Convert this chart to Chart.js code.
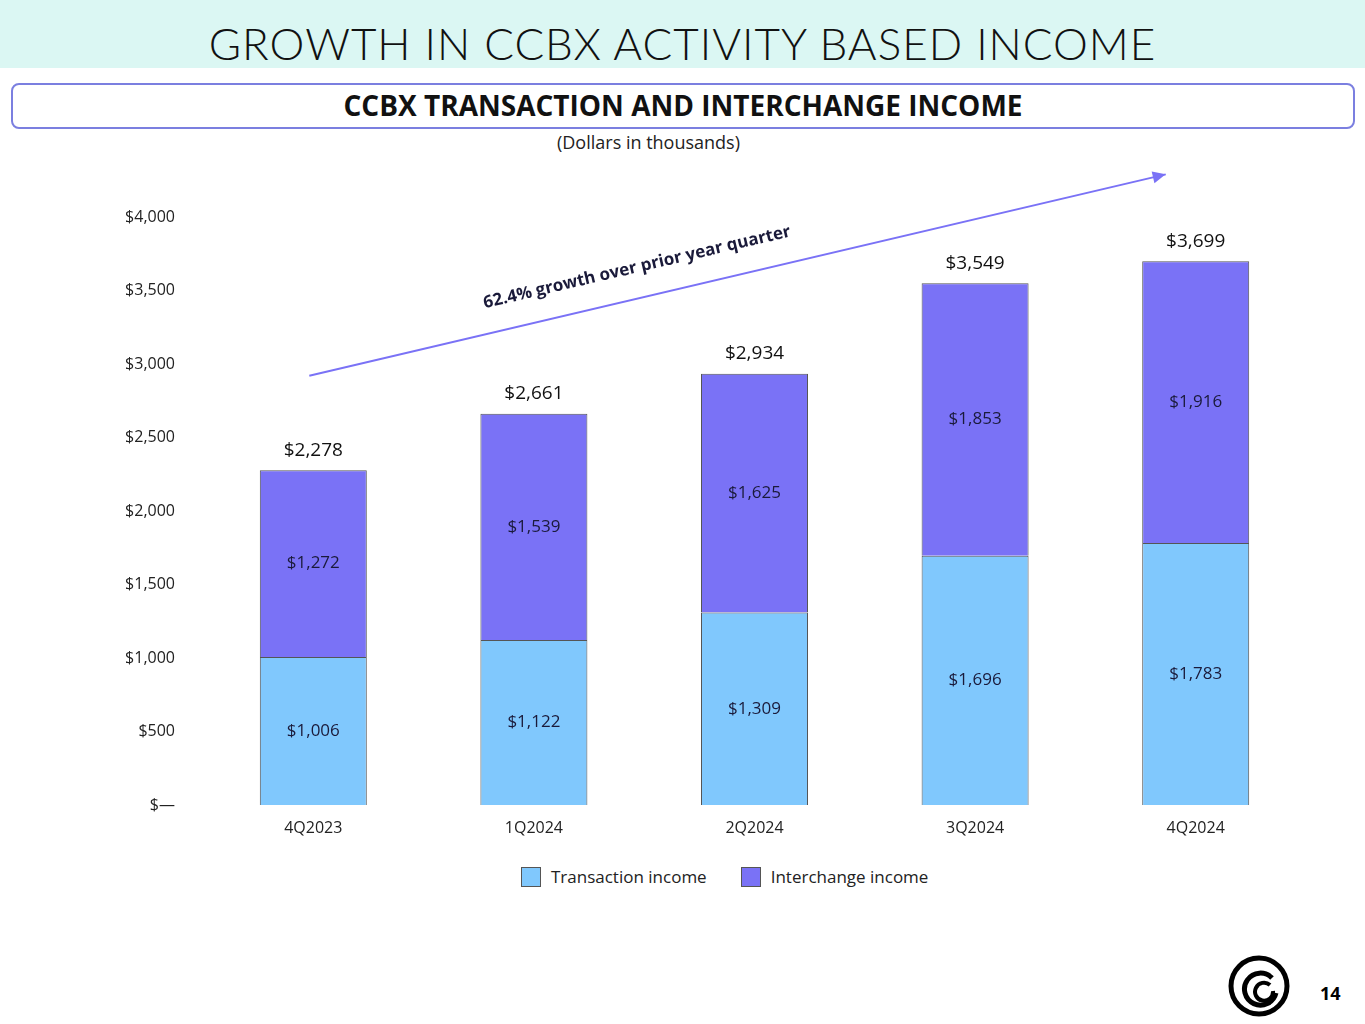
<!DOCTYPE html>
<html><head><meta charset="utf-8">
<script src="https://cdn.jsdelivr.net/npm/chart.js@4"></script>
<style>
body{margin:0;width:1365px;height:1024px;background:#fff;font-family:Calibri,"Open Sans",Carlito,sans-serif;position:relative;overflow:hidden}
#hdr{position:absolute;left:0;top:0;width:1365px;height:68px;background:#dbf7f3;text-align:center;font:300 44px "Lato","Liberation Sans",sans-serif;line-height:86px;color:#111;letter-spacing:1px}
#box{position:absolute;left:11px;top:83px;width:1340px;height:42px;border:2px solid #7b7fe0;border-radius:8px;text-align:center;font:bold 28px "Open Sans",sans-serif;line-height:40px;color:#111}
#sub{position:absolute;left:0;width:1297px;top:130px;text-align:center;font:18px "Open Sans",sans-serif;color:#222}
#wrap{position:absolute;left:0;top:160px;width:1365px;height:700px}
#leg{position:absolute;top:865px;left:521px;font:17px "Open Sans",sans-serif;color:#222}
#leg span{display:inline-block;width:18px;height:18px;border:1px solid #555;vertical-align:-4px;margin-right:10px}
#pg{position:absolute;left:1320px;top:981px;font:bold 18px "Open Sans",sans-serif}
</style></head><body>
<div id="hdr">GROWTH IN CCBX ACTIVITY BASED INCOME</div>
<div id="box">CCBX TRANSACTION AND INTERCHANGE INCOME</div>
<div id="sub">(Dollars in thousands)</div>
<div id="wrap"><canvas id="c"></canvas></div>
<div id="leg"><span style="background:#80c8fd"></span>Transaction income<span style="background:#7a72f6;margin-left:34px"></span>Interchange income</div>
<svg style="position:absolute;left:1226px;top:955px" width="66" height="62" viewBox="0 0 66 62">
<circle cx="33" cy="31" r="28" fill="none" stroke="#000" stroke-width="5"/>
<path d="M46 23 A16 16 0 1 0 50 38" fill="none" stroke="#000" stroke-width="5"/>
<path d="M44 30 A9 9 0 1 0 47 36" fill="none" stroke="#000" stroke-width="4"/>
</svg>
<div id="pg">14</div>
<script>
const quarters = ['4Q2023','1Q2024','2Q2024','3Q2024','4Q2024'];
const transaction = [1006,1122,1309,1696,1783];
const interchange = [1272,1539,1625,1853,1916];
const totals = [2278,2661,2934,3549,3699];
const yTicks = [0,500,1000,1500,2000,2500,3000,3500,4000];

const fmt = v => v === 0 ? '$\u2014' : '$' + v.toLocaleString('en-US');

const labelsPlugin = {
  id: 'labels',
  afterDatasetsDraw(chart){
    const ctx = chart.ctx;
    ctx.save();
    ctx.textAlign = 'center'; ctx.textBaseline = 'middle';
    ctx.font = '17px "Open Sans", sans-serif';
    chart.data.datasets.forEach((ds, di) => {
      chart.getDatasetMeta(di).data.forEach((bar, i) => {
        ctx.fillStyle = '#1a1a3a';
        ctx.fillText(fmt(ds.data[i]), bar.x, (bar.y + bar.base) / 2);
      });
    });
    const top = chart.getDatasetMeta(1).data;
    ctx.font = '19px "Open Sans", sans-serif';
    ctx.fillStyle = '#111';
    top.forEach((bar, i) => ctx.fillText(fmt(totals[i]), bar.x, bar.y - 20));
    // growth arrow
    const xs = chart.scales.x, ys = chart.scales.y;
    const x1 = xs.getPixelForValue(0) - 4, y1 = ys.getPixelForValue(2920);
    const x2 = xs.getPixelForValue(4) - 30, y2 = ys.getPixelForValue(4290);
    ctx.strokeStyle = '#7a72f6'; ctx.fillStyle = '#7a72f6'; ctx.lineWidth = 2;
    ctx.beginPath(); ctx.moveTo(x1, y1); ctx.lineTo(x2, y2); ctx.stroke();
    const a = Math.atan2(y2 - y1, x2 - x1);
    ctx.beginPath(); ctx.moveTo(x2, y2);
    ctx.lineTo(x2 - 13*Math.cos(a) + 6*Math.sin(a), y2 - 13*Math.sin(a) - 6*Math.cos(a));
    ctx.lineTo(x2 - 13*Math.cos(a) - 6*Math.sin(a), y2 - 13*Math.sin(a) + 6*Math.cos(a));
    ctx.fill();
    ctx.translate(637, ys.getPixelForValue(3500) - 23);
    ctx.rotate(a);
    ctx.font = 'bold 17px "Open Sans", sans-serif';
    ctx.fillStyle = '#1a1a3a';
    ctx.fillText('62.4% growth over prior year quarter', 0, 0);
    ctx.restore();
  }
};

new Chart(document.getElementById('c'), {
  type: 'bar',
  data: {
    labels: quarters,
    datasets: [
      {label:'Transaction income', data: transaction, backgroundColor:'#80c8fd', borderColor:'#555', borderWidth:1, categoryPercentage:0.97, barPercentage:0.5},
      {label:'Interchange income', data: interchange, backgroundColor:'#7a72f6', borderColor:'#555', borderWidth:1, categoryPercentage:0.97, barPercentage:0.5}
    ]
  },
  options: {
    responsive: true, maintainAspectRatio: false, animation: false,
    layout: {padding: {top: 57, right: 59, left: 0, bottom: 0}},
    plugins: {legend: {display:false}, tooltip: {enabled:false}},
    scales: {
      x: {stacked:true, grid:{display:false}, border:{display:false},
          ticks:{color:'#222', font:{size:16, family:'"Open Sans", sans-serif'}, padding:6},
          afterFit: s => { s.height = 55; }},
      y: {stacked:true, min:0, max:4000, grid:{display:false}, border:{display:false},
          afterBuildTicks: s => { s.ticks = yTicks.map(v => ({value:v})); },
          ticks:{color:'#222', font:{size:16, family:'"Open Sans", sans-serif'}, padding:20, callback: v => fmt(v)},
          afterFit: s => { s.width = 203; }}
    }
  },
  plugins: [labelsPlugin]
});
</script>
</body></html>
